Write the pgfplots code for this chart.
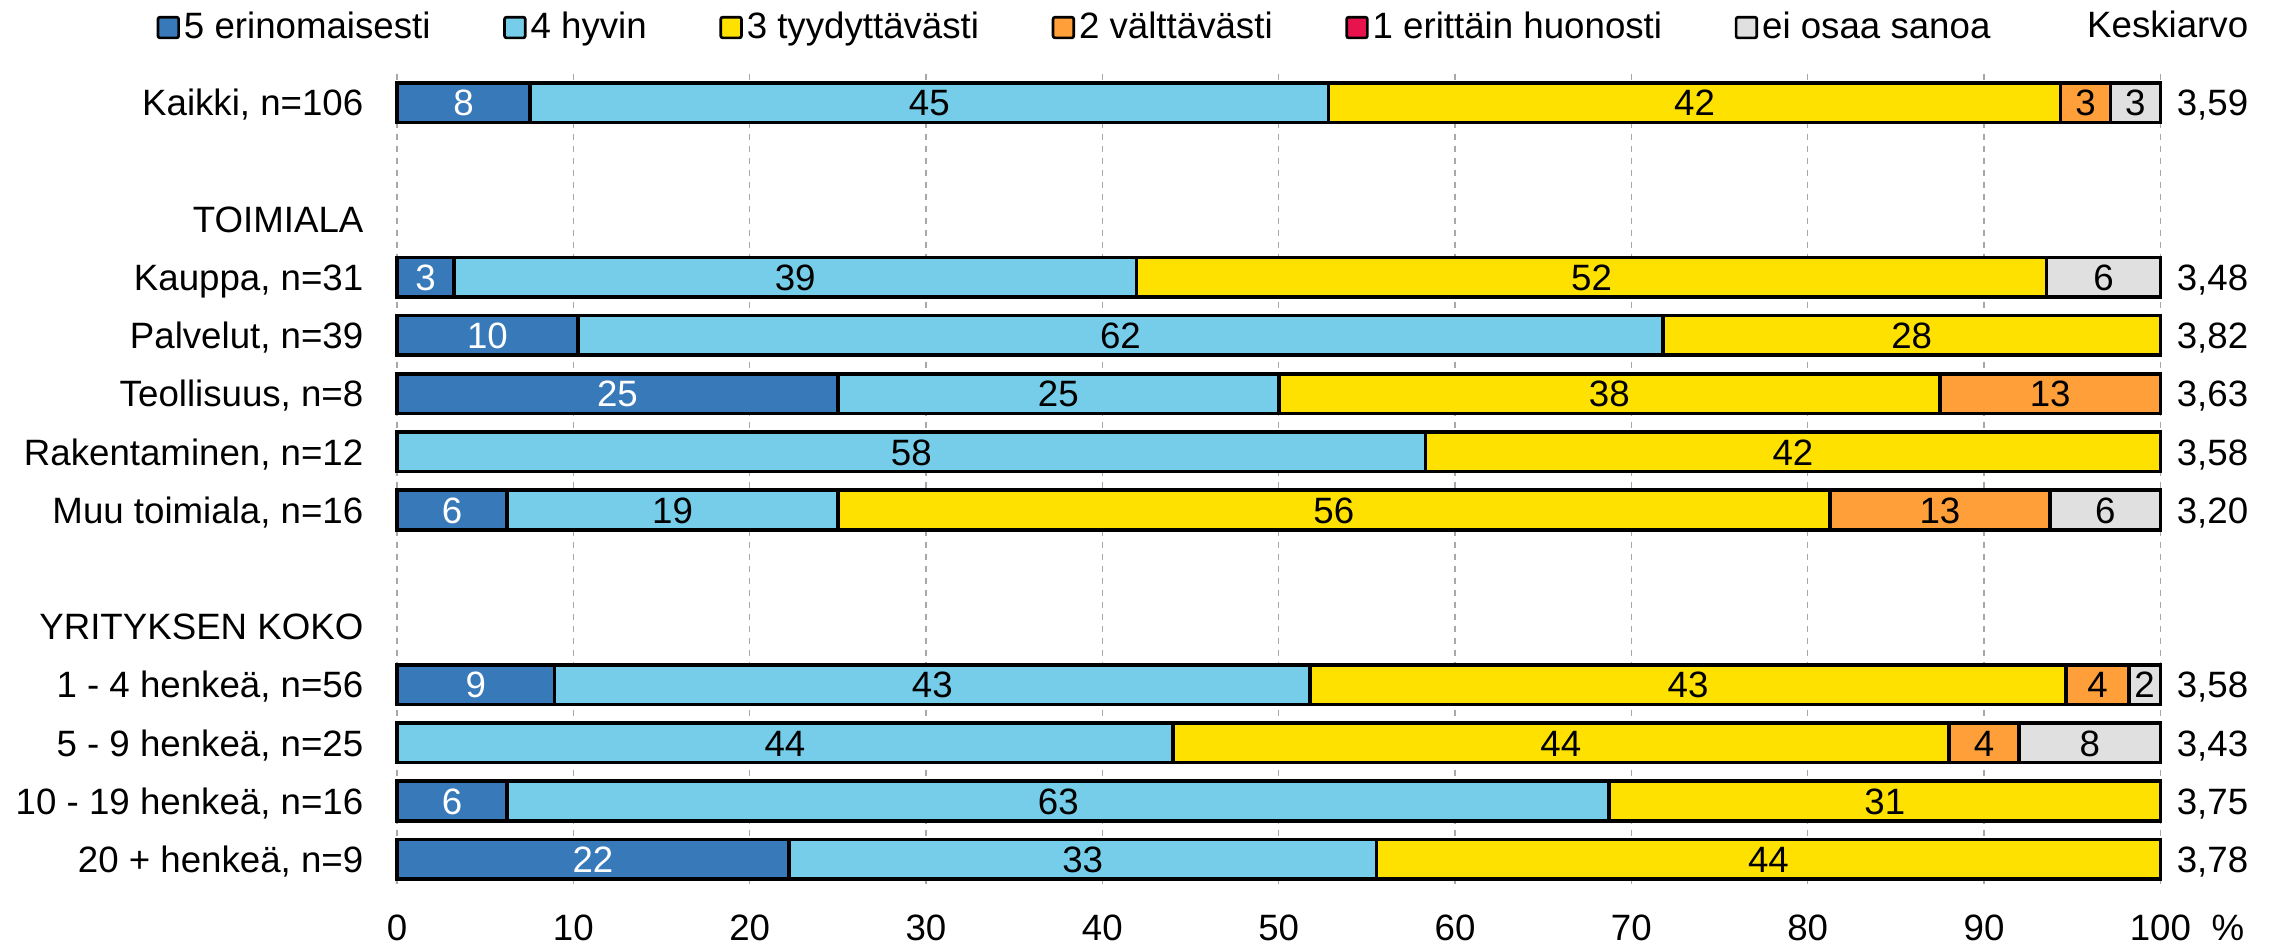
\documentclass[border=0pt]{standalone}
\usepackage{pgfplots}
\pgfplotsset{compat=1.18}
\usepackage{pgfplotstable}
\usepackage{fontspec}
\setmainfont{Liberation Sans}
\definecolor{c5}{HTML}{3879BA}
\definecolor{c4}{HTML}{75CDEA}
\definecolor{c3}{HTML}{FFE100}
\definecolor{c2}{HTML}{FF9F3A}
\definecolor{c1}{HTML}{E8124D}
\definecolor{ce}{HTML}{E0E0E0}
\definecolor{gridc}{HTML}{A8A8A8}

\pgfplotstableread{
r v lbl
0 7.55 8
3 3.23 3
4 10.26 10
5 25.00 25
6 0 {}
7 6.25 6
10 8.93 9
11 0 {}
12 6.25 6
13 22.22 22
}\tfive
\pgfplotstableread{
r v lbl
0 45.28 45
3 38.71 39
4 61.54 62
5 25.00 25
6 58.33 58
7 18.75 19
10 42.86 43
11 44.00 44
12 62.50 63
13 33.33 33
}\tfour
\pgfplotstableread{
r v lbl
0 41.51 42
3 51.61 52
4 28.20 28
5 37.50 38
6 41.67 42
7 56.25 56
10 42.86 43
11 44.00 44
12 31.25 31
13 44.45 44
}\tthree
\pgfplotstableread{
r v lbl
0 2.83 3
3 0 {}
4 0 {}
5 12.50 13
6 0 {}
7 12.50 13
10 3.57 4
11 4.00 4
12 0 {}
13 0 {}
}\ttwo
\pgfplotstableread{
r v lbl
0 2.83 3
3 6.45 6
4 0 {}
5 0 {}
6 0 {}
7 6.25 6
10 1.78 2
11 8.00 8
12 0 {}
13 0 {}
}\tei

\pgfplotsset{
  mybar/.style={fill=#1, draw=black, line width=1.1pt,
    legend image code/.code={\draw[##1, line width=0.8pt, rounded corners=0.6pt] (0.4pt,-3.1pt) rectangle (6.6pt,3.1pt);}},
}
\tikzset{mean/.style={anchor=east, inner sep=0pt, xshift=26.55pt, text height=7.9pt, text depth=0pt}}

\begin{document}
\begin{tikzpicture}[font=\fontsize{11}{13}\selectfont]
\begin{axis}[
  at={(0,0)}, anchor=south west,
  x=5.29pt, y=17.46pt,
  xmin=0, xmax=100, ymin=-0.5, ymax=13.5,
  y dir=reverse,
  xbar stacked,
  bar width=0.68,
  axis line style={draw=none},
  tick style={draw=none},
  major tick length=0pt,
  xtick={0,10,...,100},
  xmajorgrids,
  grid style={gridc, line width=0.4pt, dash pattern=on 2pt off 1.6pt},
  ytick={0,2,3,4,5,6,7,9,10,11,12,13},
  yticklabels={{Kaikki, n=106},TOIMIALA,{Kauppa, n=31},{Palvelut, n=39},{Teollisuus, n=8},{Rakentaminen, n=12},{Muu toimiala, n=16},YRITYKSEN KOKO,{1 - 4 henkeä, n=56},{5 - 9 henkeä, n=25},{10 - 19 henkeä, n=16},{20 + henkeä, n=9}},
  yticklabel style={anchor=east, inner sep=0pt, xshift=-9.9pt, text height=7.9pt, text depth=0pt},
  xticklabel style={anchor=base, inner sep=0pt, yshift=-15.6pt},
  /pgf/number format/assume math mode=true,
  point meta=explicit symbolic,
  nodes near coords,
  every node near coord/.append style={anchor=center, inner sep=0pt, text height=7.9pt, text depth=0pt},
  legend columns=-1,
  legend style={draw=none, fill=none, inner sep=0pt, at={(axis cs:0,-0.5)}, anchor=west, xshift=-72.3pt, yshift=13.8pt, column sep=1.2pt, /tikz/every even column/.append style={column sep=21.8pt}, nodes={inner sep=0pt}},
  clip=false,
]
\addplot[mybar=c5, every node near coord/.append style={text=white}] table[x=v, y=r, meta=lbl] {\tfive};
\addlegendentry{5 erinomaisesti}
\addplot[mybar=c4] table[x=v, y=r, meta=lbl] {\tfour};
\addlegendentry{4 hyvin}
\addplot[mybar=c3] table[x=v, y=r, meta=lbl] {\tthree};
\addlegendentry{3 tyydyttävästi}
\addplot[mybar=c2] table[x=v, y=r, meta=lbl] {\ttwo};
\addlegendentry{2 välttävästi}
\addlegendimage{mybar=c1}
\addlegendentry{1 erittäin huonosti}
\addplot[mybar=ce] table[x=v, y=r, meta=lbl] {\tei};
\addlegendentry{ei osaa sanoa}

\node[mean] at (axis cs:100,0) {3,59};
\node[mean] at (axis cs:100,3) {3,48};
\node[mean] at (axis cs:100,4) {3,82};
\node[mean] at (axis cs:100,5) {3,63};
\node[mean] at (axis cs:100,6) {3,58};
\node[mean] at (axis cs:100,7) {3,20};
\node[mean] at (axis cs:100,10) {3,58};
\node[mean] at (axis cs:100,11) {3,43};
\node[mean] at (axis cs:100,12) {3,75};
\node[mean] at (axis cs:100,13) {3,78};
\node[anchor=base east, inner sep=0pt, xshift=26.55pt, yshift=10.95pt] at (axis cs:100,-0.5) {Keskiarvo};
\node[anchor=base, inner sep=0pt, xshift=20.25pt, yshift=-15.6pt] at (axis cs:100,13.5) {\%};
\end{axis}
\path (-119.1pt,-17.4pt) rectangle (567.6pt,266.5pt);
\end{tikzpicture}
\end{document}
